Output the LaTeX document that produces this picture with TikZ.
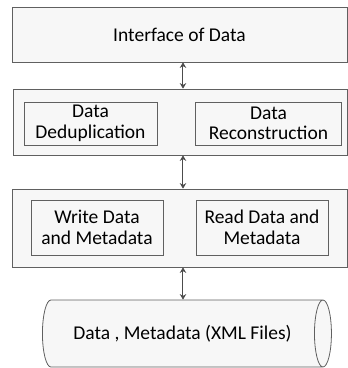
\documentclass[tikz,border=0pt]{standalone}
\usepackage{fontspec}
\setmainfont{Carlito}
\usetikzlibrary{shapes.geometric,arrows.meta}

\begin{document}
\begin{tikzpicture}[x=1pt,y=-1pt,
  layerbox/.style={draw=gray!75!black, fill=gray!6, line width=0.8pt, inner sep=0pt, font=\fontsize{19.5}{21}\selectfont},
  unitbox/.style={draw=gray!75!black, fill=gray!6, line width=0.8pt, inner sep=0pt, align=center, font=\fontsize{19.5}{20.5}\selectfont},
  link/.style={{Stealth[length=5.5pt,width=6.5pt]}-{Stealth[length=5.5pt,width=6.5pt]}, draw=gray!60!black, fill=gray!60!black, line width=1pt}]

\useasboundingbox (0,0) rectangle (348,368);

% layers
\node[layerbox, minimum width=335pt, minimum height=55pt] (iface) at (179.5,34.5) {Interface of Data};
\node[layerbox, minimum width=334pt, minimum height=66pt] (proc) at (180,122) {};
\node[layerbox, minimum width=335pt, minimum height=78pt] (rw) at (179.5,228) {};

% units inside the layers
\node[unitbox, minimum width=133pt, minimum height=43pt] (dedup) at (90.5,123.5) {Data\\Deduplication};
\node[unitbox, minimum width=146pt, minimum height=43pt] (recon) at (268.5,123.5) {Data\\Reconstruction};
\node[unitbox, minimum width=132pt, minimum height=55pt] (write) at (97,227.5) {Write Data\\and Metadata};
\node[unitbox, minimum width=132pt, minimum height=55pt] (read) at (262,227.5) {Read Data and\\Metadata};

% storage
\node[cylinder, shape aspect=1, draw=gray!75!black, fill=gray!6, line width=0.8pt,
  minimum width=67pt, minimum height=289pt, inner sep=0pt, font=\fontsize{19.5}{21}\selectfont] (store) at (182.5,333.5) {Data , Metadata (XML Files)};

% links
\coordinate (axis) at (183,0);
\draw[link] (iface.south -| axis) -- (proc.north -| axis);
\draw[link] (proc.south -| axis) -- (rw.north -| axis);
\draw[link] (rw.south -| axis) -- (store.north -| axis);

\end{tikzpicture}
\end{document}
